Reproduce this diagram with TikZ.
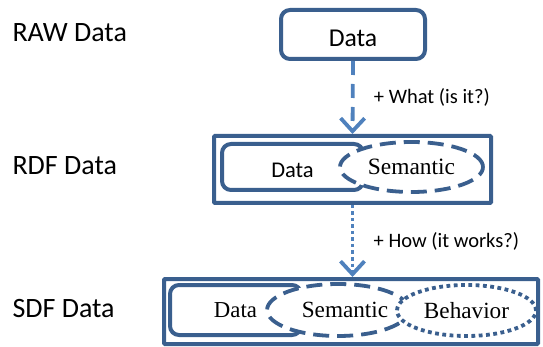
\documentclass[tikz,border=0pt]{standalone}
\usepackage{fontspec}
\setmainfont{Liberation Serif}
\newfontfamily\calibri{Carlito}
\usetikzlibrary{arrows.meta,shapes.geometric,positioning}
\definecolor{boxblue}{HTML}{3A5F8E}
\definecolor{arrowblue}{HTML}{4F81BD}
\tikzstyle{level} = [anchor=west, font=\calibri\fontsize{28}{32}\selectfont]
\tikzstyle{frame} = [draw=boxblue, line width=4pt, rectangle, rounded corners=1pt]
\tikzstyle{block} = [draw=boxblue, line width=4pt, rectangle, rounded corners=9pt, fill=white]
\tikzstyle{blob} = [draw=boxblue, line width=3.8pt, ellipse, inner sep=0pt, fill=white]
\tikzstyle{flow} = [draw=arrowblue, line width=3.8pt, -{Straight Barb[length=13pt,width=24pt]}]
\tikzstyle{note} = [right=16pt, font=\calibri\fontsize{20.5}{24}\selectfont, text=black]

\begin{document}
\begin{tikzpicture}[x=1pt, y=-1pt]
\useasboundingbox (0,0) rectangle (543,347);

% left column
\node [level] (raw) at (9,33) {RAW Data};
\node [level] (rdf) at (9,166) {RDF Data};
\node [level] (sdf) at (9,309) {SDF Data};

% raw data
\node [block, minimum width=144pt, minimum height=49pt, text height=24pt,
       font=\calibri\fontsize{25.7}{30}\selectfont] (rawbox) at (353,34.5) {Data};

% rdf data
\node [frame, minimum width=277pt, minimum height=67pt] (rdfframe) at (352.5,169.5) {};
\node [block, minimum width=141pt, minimum height=46pt, text height=21pt,
       font=\calibri\fontsize{22.5}{26}\selectfont] (rdfdata) at (292.5,167) {Data};
\node [blob, dash pattern=on 16pt off 8pt, minimum width=143pt, minimum height=50pt,
       font=\fontsize{23.4}{27}\selectfont] (rdfsem) at (411.5,167) {Semantic};

% sdf data
\node [frame, minimum width=374pt, minimum height=65pt] (sdfframe) at (351,311.5) {};
\node [block, minimum width=131pt, minimum height=50pt,
       font=\fontsize{22.8}{27}\selectfont] (sdfdata) at (235.5,310) {Data};
\node [blob, dash pattern=on 16pt off 8pt, minimum width=126pt, minimum height=52pt,
       font=\fontsize{23.2}{27}\selectfont] (sdfsem) at (338,310) {\hspace{14pt}Semantic};
\node [blob, dash pattern=on 3.8pt off 3.5pt, minimum width=139pt, minimum height=51pt,
       font=\fontsize{23.2}{27}\selectfont] (sdfbeh) at (466.5,310.5) {Behavior};

% steps
\draw [flow, dash pattern=on 14pt off 9pt] (rawbox.south) -- node [note] {+ What (is it?)} (rdfframe.north);
\draw [flow, dash pattern=on 3.5pt off 3pt] (rdfframe.south) -- node [note] {+ How (it works?)} (rdfframe.south |- sdfframe.north);
\end{tikzpicture}
\end{document}
